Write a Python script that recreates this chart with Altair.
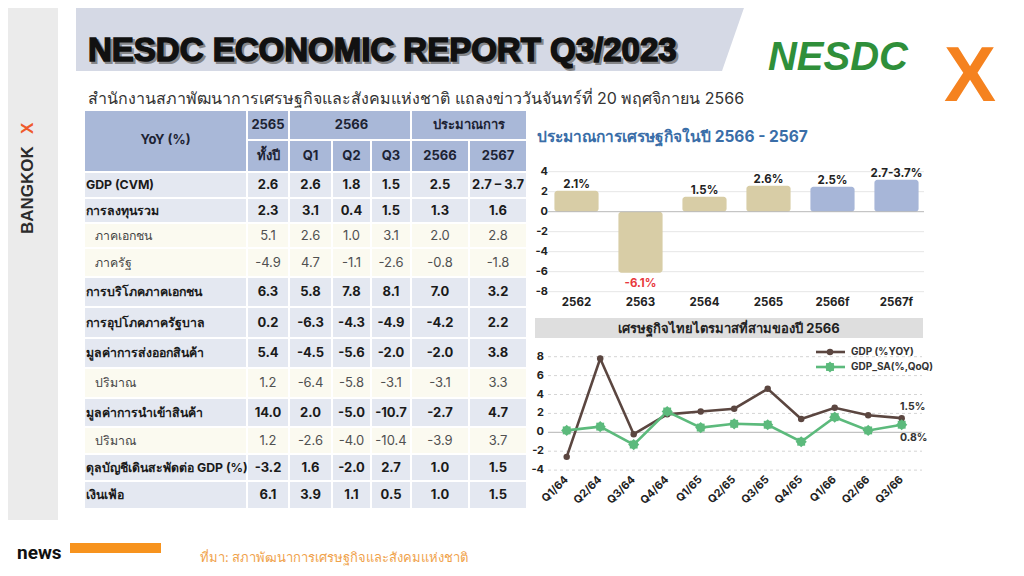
import altair as alt
import pandas as pd

# ------------------------------------------------------------------ data
TITLE = "NESDC ECONOMIC REPORT Q3/2023"
SUBTITLE = "สำนักงานสภาพัฒนาการเศรษฐกิจและสังคมแห่งชาติ แถลงข่าววันจันทร์ที่ 20 พฤศจิกายน 2566"
SOURCE = "ที่มา: สภาพัฒนาการเศรษฐกิจและสังคมแห่งชาติ"

TABLE_CORNER = "YoY (%)"
COL_HEADERS_TOP = ["2565", "2566", "ประมาณการ"]
COL_HEADERS_SUB = ["ทั้งปี", "Q1", "Q2", "Q3", "2566", "2567"]
ROW_LABELS = ["GDP (CVM)", "การลงทุนรวม", "ภาคเอกชน", "ภาครัฐ", "การบริโภคภาคเอกชน",
              "การอุปโภคภาครัฐบาล", "มูลค่าการส่งออกสินค้า", "ปริมาณ",
              "มูลค่าการนำเข้าสินค้า", "ปริมาณ", "ดุลบัญชีเดินสะพัดต่อ GDP (%)", "เงินเฟ้อ"]
ROW_IS_SUB = [0, 0, 1, 1, 0, 0, 0, 1, 0, 1, 0, 0]
V2565_YEAR = [2.6, 2.3, 5.1, -4.9, 6.3, 0.2, 5.4, 1.2, 14.0, 1.2, -3.2, 6.1]
V2566_Q1 = [2.6, 3.1, 2.6, 4.7, 5.8, -6.3, -4.5, -6.4, 2.0, -2.6, 1.6, 3.9]
V2566_Q2 = [1.8, 0.4, 1.0, -1.1, 7.8, -4.3, -5.6, -5.8, -5.0, -4.0, -2.0, 1.1]
V2566_Q3 = [1.5, 1.5, 3.1, -2.6, 8.1, -4.9, -2.0, -3.1, -10.7, -10.4, 2.7, 0.5]
F2566 = [2.5, 1.3, 2.0, -0.8, 7.0, -4.2, -2.0, -3.1, -2.7, -3.9, 1.0, 1.0]
F2567 = ["2.7 – 3.7", 1.6, 2.8, -1.8, 3.2, 2.2, 3.8, 3.3, 4.7, 3.7, 1.5, 1.5]

BAR_TITLE = "ประมาณการเศรษฐกิจในปี 2566 - 2567"
BAR_YEARS = ["2562", "2563", "2564", "2565", "2566f", "2567f"]
BAR_VALUES = [2.1, -6.1, 1.5, 2.6, 2.5, 3.2]
BAR_LABELS = ["2.1%", "-6.1%", "1.5%", "2.6%", "2.5%", "2.7-3.7%"]
BAR_KIND = ["actual", "actual", "actual", "actual", "forecast", "forecast"]
BAR_TICKS = [-8, -6, -4, -2, 0, 2, 4]

LINE_TITLE = "เศรษฐกิจไทยไตรมาสที่สามของปี 2566"
QUARTERS = ["Q1/64", "Q2/64", "Q3/64", "Q4/64", "Q1/65", "Q2/65", "Q3/65",
            "Q4/65", "Q1/66", "Q2/66", "Q3/66"]
GDP_YOY = [-2.6, 7.8, -0.2, 1.9, 2.2, 2.5, 4.6, 1.4, 2.6, 1.8, 1.5]
GDP_SA_QOQ = [0.2, 0.6, -1.3, 2.2, 0.5, 0.9, 0.8, -1.0, 1.6, 0.2, 0.8]
SERIES = ["GDP (%YOY)", "GDP_SA(%,QoQ)"]
END_LABELS = ["1.5%", "0.8%"]
LINE_TICKS = [-4, -2, 0, 2, 4, 6, 8]

# ------------------------------------------------------------------ layout
OFF = 8
W, H = 1008, 560


def px(v):
    return v - OFF


FONT = "Inter, 'Noto Sans', sans-serif"
TABLE_X_EDGES = [84, 247, 289, 332, 371, 411, 469, 527]
TABLE_Y_EDGES = [110, 140, 172, 198, 223, 248, 277, 307, 338, 368, 398, 427, 454, 481, 509]

ONE = pd.DataFrame({"a": [0]})


def label(text, x, y, **kw):
    kw.setdefault("font", FONT)
    return alt.Chart(ONE).mark_text(text=text, **kw).encode(
        x=alt.value(px(x)), y=alt.value(px(y)))


def box(x0, x1, y0, y1, **kw):
    return alt.Chart(ONE).mark_rect(**kw).encode(
        x=alt.value(px(x0)), x2=alt.value(px(x1)),
        y=alt.value(px(y0)), y2=alt.value(px(y1)))


layers = []

# ---- background decorations
layers.append(box(8, 58, 8, 520, color="#ebebeb"))
band = pd.DataFrame({"y": [px(5), px(71)], "xa": [px(76), px(76)], "xb": [px(745), px(722)]})
layers.append(alt.Chart(band).mark_area(orient="horizontal", color="#d5d9e5").encode(
    y=alt.Y("y:Q", scale=None), x=alt.X("xa:Q", scale=None), x2="xb:Q"))
TFONT = "'Liberation Sans Narrow', sans-serif"
layers.append(label(TITLE, 90, 53, fontSize=33, font=TFONT, fontWeight="bold",
                    color="#6b6b6b", stroke="#6b6b6b", strokeWidth=2, align="left",
                    opacity=0.75))
layers.append(label(TITLE, 88, 51, fontSize=33, font=TFONT, fontWeight="bold",
                    color="#111", stroke="#111", strokeWidth=1.5, align="left"))
layers.append(label(SUBTITLE, 88, 99, fontSize=16, color="#333", align="left"))

# logos (text approximations)
layers.append(label("NESDC", 838, 58, fontSize=40, fontStyle="italic", fontWeight="bold",
                    color="#2f8f3a", align="center", font="'Liberation Sans', sans-serif"))
layers.append(label("X", 970, 78, fontSize=78, fontWeight="bold", color="#f5821f",
                    align="center", font="'Liberation Sans', sans-serif"))
layers.append(label("BANGKOK", 28, 234, fontSize=17, fontWeight="bold", color="#2b2b2b",
                    angle=270, align="left", baseline="middle",
                    font="'Liberation Sans', sans-serif"))
layers.append(label("X", 28, 134, fontSize=17, fontWeight="bold", color="#ef5a2b",
                    angle=270, align="left", baseline="middle",
                    font="'Liberation Sans', sans-serif"))

# footer
layers.append(label("news", 17, 553, fontSize=19, fontWeight="bold", color="#111",
                    align="left", font="Roboto, sans-serif"))
layers.append(box(70, 161, 543, 553, color="#f7931e"))
layers.append(label(SOURCE, 200, 558, fontSize=13, color="#f0a24a", align="left"))

# ------------------------------------------------------------------ table
cells = [dict(c0=0, c1=1, r0=0, r1=2, text=TABLE_CORNER, kind="header", role="head")]
for (c0, c1), t in zip([(1, 2), (2, 5), (5, 7)], COL_HEADERS_TOP):
    cells.append(dict(c0=c0, c1=c1, r0=0, r1=1, text=t, kind="header", role="head"))
for i, t in enumerate(COL_HEADERS_SUB):
    cells.append(dict(c0=i + 1, c1=i + 2, r0=1, r1=2, text=t, kind="header", role="head"))
cols = [V2565_YEAR, V2566_Q1, V2566_Q2, V2566_Q3, F2566, F2567]
for r, (lab, sub) in enumerate(zip(ROW_LABELS, ROW_IS_SUB)):
    kind = "sub" if sub else "main"
    cells.append(dict(c0=0, c1=1, r0=r + 2, r1=r + 3, text=lab, kind=kind, role="label"))
    for c, col in enumerate(cols):
        v = col[r]
        t = v if isinstance(v, str) else f"{v:.1f}"
        cells.append(dict(c0=c + 1, c1=c + 2, r0=r + 2, r1=r + 3, text=t, kind=kind, role="value"))
tab = pd.DataFrame(cells)
tab["cm"] = (tab.c0 + tab.c1) / 2
tab["rm"] = (tab.r0 + tab.r1) / 2

TX = alt.Scale(domain=list(range(len(TABLE_X_EDGES))), range=[px(e) for e in TABLE_X_EDGES],
               nice=False, zero=False)
TY = alt.Scale(domain=list(range(len(TABLE_Y_EDGES))), range=[px(e) for e in TABLE_Y_EDGES],
               nice=False, zero=False)
KIND_COL = alt.Scale(domain=["header", "main", "sub"], range=["#a9b8d8", "#e4e8f1", "#fbfaf0"])

base_t = alt.Chart(tab)
layers.append(base_t.mark_rect(stroke="white", strokeWidth=2).encode(
    x=alt.X("c0:Q", scale=TX, axis=None), x2="c1:Q",
    y=alt.Y("r0:Q", scale=TY, axis=None), y2="r1:Q",
    color=alt.Color("kind:N", scale=KIND_COL, legend=None)))


def table_text(filt, xfield, **kw):
    kw.setdefault("font", FONT)
    kw.setdefault("fontSize", 13)
    return base_t.transform_filter(filt).mark_text(baseline="middle", **kw).encode(
        x=alt.X(f"{xfield}:Q", scale=TX, axis=None),
        y=alt.Y("rm:Q", scale=TY, axis=None),
        text="text:N")


layers.append(table_text("datum.role == 'head'", "cm", fontWeight="bold", color="#1d2333"))
layers.append(table_text("datum.role == 'label' && datum.kind == 'main'", "c0",
                         fontWeight="bold", color="#1a1a1a", align="left", dx=2, fontSize=12.3))
layers.append(table_text("datum.role == 'label' && datum.kind == 'sub'", "c0",
                         color="#444", align="left", dx=11, fontSize=12.3))
layers.append(table_text("datum.role == 'value' && datum.kind == 'main'", "cm",
                         fontWeight="bold", color="#1a1a1a"))
layers.append(table_text("datum.role == 'value' && datum.kind == 'sub'", "cm",
                         color="#505050"))

# ------------------------------------------------------------------ bar chart
layers.append(label(BAR_TITLE, 537, 137, fontSize=15.5, fontWeight="bold", color="#3a6ea8",
                    align="left"))
BY = alt.Scale(domain=[-8, 4], range=[px(291.7), px(171.7)], nice=False, zero=False)
BX = alt.Scale(domain=BAR_YEARS, range=[px(544.5), px(928.5)], paddingInner=0.31,
               paddingOuter=0.155)
ticks_b = pd.DataFrame({"v": BAR_TICKS, "t": [str(t) for t in BAR_TICKS]})
layers.append(alt.Chart(ticks_b).transform_filter("datum.v != 0").mark_rule(
    color="#e6e6e6", strokeWidth=1).encode(
    y=alt.Y("v:Q", scale=BY, axis=None), x=alt.value(px(548)), x2=alt.value(px(924))))
layers.append(alt.Chart(ticks_b).mark_text(fontSize=11, fontWeight="bold", font=FONT,
                                           align="right", baseline="middle", color="#222").encode(
    y=alt.Y("v:Q", scale=BY, axis=None), x=alt.value(px(548)), text="t:N"))
bars = pd.DataFrame({"year": BAR_YEARS, "v": BAR_VALUES, "lab": BAR_LABELS, "kind": BAR_KIND})
layers.append(alt.Chart(bars).mark_bar(cornerRadius=3).encode(
    x=alt.X("year:N", scale=BX, axis=None, sort=None),
    y=alt.Y("v:Q", scale=BY, axis=None), y2=alt.datum(0),
    color=alt.Color("kind:N", scale=alt.Scale(domain=["actual", "forecast"],
                                              range=["#d8cda6", "#a7b6d8"]), legend=None)))
layers.append(alt.Chart(ticks_b).transform_filter("datum.v == 0").mark_rule(
    color="#b8b8b8", strokeWidth=1).encode(
    y=alt.Y("v:Q", scale=BY, axis=None), x=alt.value(px(548)), x2=alt.value(px(924))))
layers.append(alt.Chart(bars).transform_filter("datum.v >= 0").mark_text(
    fontSize=11.5, fontWeight="bold", font=FONT, baseline="alphabetic", dy=-3, color="#222").encode(
    x=alt.X("year:N", scale=BX, axis=None, sort=None),
    y=alt.Y("v:Q", scale=BY, axis=None), text="lab:N"))
layers.append(alt.Chart(bars).transform_filter("datum.v < 0").mark_text(
    fontSize=11.5, fontWeight="bold", font=FONT, baseline="top", dy=5, color="#e8383d").encode(
    x=alt.X("year:N", scale=BX, axis=None, sort=None),
    y=alt.Y("v:Q", scale=BY, axis=None), text="lab:N"))
layers.append(alt.Chart(bars).mark_text(
    fontSize=11.5, fontWeight="bold", font=FONT, baseline="middle", color="#222").encode(
    x=alt.X("year:N", scale=BX, axis=None, sort=None), y=alt.value(px(303)), text="year:N"))

# ------------------------------------------------------------------ line chart
layers.append(box(535, 923, 318, 338, color="#dedede"))
layers.append(label(LINE_TITLE, 729, 329, fontSize=13, fontWeight="bold", color="#222",
                    baseline="middle"))
LY = alt.Scale(domain=[-4, 8], range=[px(470.1), px(356.7)], nice=False, zero=False)
LX = alt.Scale(type="point", domain=QUARTERS, range=[px(566.7), px(901.7)], padding=0)
SC = alt.Scale(domain=SERIES, range=["#5b4640", "#5cba7c"])
ticks_l = pd.DataFrame({"v": LINE_TICKS, "t": [str(t) for t in LINE_TICKS]})
layers.append(alt.Chart(ticks_l).transform_filter("datum.v != 0").mark_rule(
    color="#d4d4d4", strokeWidth=1, strokeDash=[3, 3]).encode(
    y=alt.Y("v:Q", scale=LY, axis=None), x=alt.value(px(548)), x2=alt.value(px(922))))
layers.append(alt.Chart(ticks_l).transform_filter("datum.v == 0").mark_rule(
    color="#b3b3b3", strokeWidth=1).encode(
    y=alt.Y("v:Q", scale=LY, axis=None), x=alt.value(px(548)), x2=alt.value(px(922))))
layers.append(alt.Chart(ticks_l).mark_text(fontSize=11, fontWeight="bold", font=FONT,
                                           align="right", baseline="middle", color="#222").encode(
    y=alt.Y("v:Q", scale=LY, axis=None), x=alt.value(px(544)), text="t:N"))

line_df = pd.DataFrame({
    "q": QUARTERS * 2,
    "v": GDP_YOY + GDP_SA_QOQ,
    "s": [SERIES[0]] * len(QUARTERS) + [SERIES[1]] * len(QUARTERS),
    "o": list(range(len(QUARTERS))) * 2,
})
lx = alt.X("q:N", scale=LX, axis=None, sort=None)
ly = alt.Y("v:Q", scale=LY, axis=None)
layers.append(alt.Chart(line_df).mark_line(strokeWidth=2.6).encode(
    x=lx, y=ly, color=alt.Color("s:N", scale=SC, legend=None), order="o:Q"))
layers.append(alt.Chart(line_df).transform_filter(f"datum.s == '{SERIES[0]}'").mark_point(
    shape="circle", filled=True, size=42, opacity=1, color="#5b4640").encode(x=lx, y=ly))
layers.append(alt.Chart(line_df).transform_filter(f"datum.s == '{SERIES[1]}'").mark_point(
    shape="square", filled=True, size=62, opacity=1, color="#5cba7c").encode(x=lx, y=ly))
layers.append(alt.Chart(line_df).transform_filter(f"datum.s == '{SERIES[1]}'").mark_point(
    shape="diamond", filled=True, size=125, opacity=1, color="#5cba7c").encode(x=lx, y=ly))

end_df = pd.DataFrame({"q": [QUARTERS[-1]] * 2, "v": [GDP_YOY[-1], GDP_SA_QOQ[-1]],
                       "t": END_LABELS})
layers.append(alt.Chart(end_df.iloc[[0]]).mark_text(
    fontSize=10.5, fontWeight="bold", font=FONT, dx=11, dy=-11, color="#333").encode(
    x=lx, y=ly, text="t:N"))
layers.append(alt.Chart(end_df.iloc[[1]]).mark_text(
    fontSize=10.5, fontWeight="bold", font=FONT, dx=12, dy=13, color="#333").encode(
    x=lx, y=ly, text="t:N"))
layers.append(alt.Chart(pd.DataFrame({"q": QUARTERS})).mark_text(
    fontSize=11, fontWeight="bold", font=FONT, angle=315, align="right", baseline="middle",
    dx=0, color="#222").encode(
    x=alt.X("q:N", scale=LX, axis=None, sort=None), y=alt.value(px(478)), text="q:N"))

# legend
leg = pd.DataFrame({"s": SERIES})
LEGY = alt.Scale(type="point", domain=SERIES, range=[px(352), px(367)], padding=0)
legy = alt.Y("s:N", scale=LEGY, axis=None)
layers.append(alt.Chart(leg).mark_rule(strokeWidth=2.6).encode(
    y=legy, x=alt.value(px(816)), x2=alt.value(px(845)),
    color=alt.Color("s:N", scale=SC, legend=None)))
layers.append(alt.Chart(leg).transform_filter(f"datum.s == '{SERIES[0]}'").mark_point(
    shape="circle", filled=True, size=42, opacity=1, color="#5b4640").encode(
    y=legy, x=alt.value(px(830))))
layers.append(alt.Chart(leg).transform_filter(f"datum.s == '{SERIES[1]}'").mark_point(
    shape="square", filled=True, size=62, opacity=1, color="#5cba7c").encode(
    y=legy, x=alt.value(px(830))))
layers.append(alt.Chart(leg).transform_filter(f"datum.s == '{SERIES[1]}'").mark_point(
    shape="diamond", filled=True, size=125, opacity=1, color="#5cba7c").encode(
    y=legy, x=alt.value(px(830))))
layers.append(alt.Chart(leg).mark_text(fontSize=10, fontWeight="bold", font=FONT, align="left",
                                       baseline="middle", color="#333").encode(
    y=legy, x=alt.value(px(851)), text="s:N"))

chart = alt.layer(*layers).resolve_scale(
    x="independent", y="independent", color="independent"
).properties(
    width=W, height=H, autosize=alt.AutoSizeParams(type="none"), padding=0,
    background="white"
).configure_view(stroke=None)

chart.save("out.html", embed_options={"renderer": "svg", "actions": False})
